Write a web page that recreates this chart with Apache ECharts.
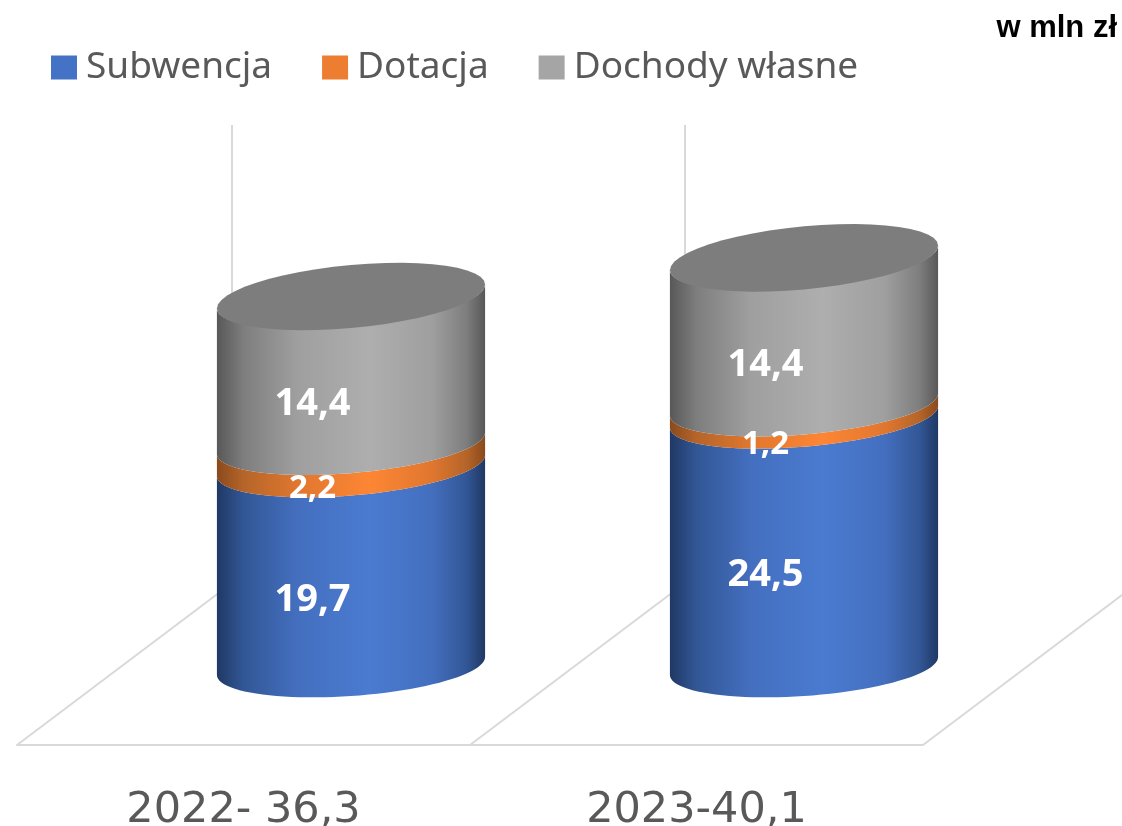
<!DOCTYPE html>
<html>
<head>
<meta charset="utf-8">
<title>Subwencja, dotacja, dochody własne</title>
<style>
  html, body { margin: 0; padding: 0; background: #fff; }
  #chart { width: 1122px; height: 826px; }
</style>
<script src="https://cdn.jsdelivr.net/npm/echarts@6/dist/echarts.min.js"></script>
</head>
<body>
<div id="chart"></div>
<script>
  // dane
  const categories = ['2022- 36,3', '2023-40,1'];
  const subwencja = [19.7, 24.5];
  const dotacja = [2.2, 1.2];
  const dochodyWlasne = [14.4, 14.4];

  // pseudo 3D: przesuniecie sciany tylnej i walca wzgledem przedniej krawedzi podlogi
  const WALL_DX = 215, WALL_DY = 162;
  const CYL_DX = 107.5, CYL_DY = 79;
  const AXIS_MAX = 45;

  function shade(c) {
    return {
      type: 'linear', x: 0, y: 0, x2: 1, y2: 0,
      colorStops: [
        { offset: 0, color: c[0] },
        { offset: 0.1, color: c[1] },
        { offset: 0.3, color: c[2] },
        { offset: 0.57, color: c[3] },
        { offset: 0.8, color: c[2] },
        { offset: 0.93, color: c[1] },
        { offset: 1, color: c[0] }
      ]
    };
  }

  // punkt przedniego luku elipsy (t: PI = lewo, 0 = prawo)
  function arc(cx, cy, a, b, k, from, to) {
    const pts = [];
    for (let i = 0; i <= 48; i++) {
      const t = from + (to - from) * i / 48;
      pts.push([cx + a * Math.cos(t), cy - k * Math.cos(t) + b * Math.sin(t)]);
    }
    return pts;
  }

  function cylinderPart(fill, hasCap) {
    return function (params, api) {
      const base = api.value(1), top = api.value(2);
      const p0 = api.coord([api.value(0), 0]);
      const pBase = api.coord([api.value(0), base]);
      const pTop = api.coord([api.value(0), top]);
      const a = api.size([1, 0])[0] * 0.296;
      const b = a * 0.224;
      const cx = p0[0] + CYL_DX;
      const y1 = pBase[1] - CYL_DY, y2 = pTop[1] - CYL_DY;
      const k1 = 9 + (p0[1] - pBase[1]) * 0.008;
      const k2 = 9 + (p0[1] - pTop[1]) * 0.008;

      const side = arc(cx, y1, a, b, k1, Math.PI, 0).concat(arc(cx, y2, a, b, k2, 0, Math.PI));
      const children = [{
        type: 'polygon',
        shape: { points: side },
        style: { fill: fill }
      }];
      if (hasCap) {
        children.push({
          type: 'polygon',
          shape: { points: arc(cx, y2, a, b + 1.5, k2, 0, Math.PI * 2) },
          style: { fill: '#7d7d7d' }
        });
      }
      const value = Math.round((top - base) * 10) / 10;
      const labelPos = api.coord([api.value(0), (base + top) / 2]);
      children.push({
        type: 'text',
        z2: 100,
        style: {
          x: labelPos[0] + 69,
          y: labelPos[1] - 45,
          text: String(value).replace('.', ','),
          fill: '#fff',
          font: 'bold ' + (value < 5 ? 33 : 38) + 'px "Noto Sans"',
          align: 'center',
          verticalAlign: 'middle'
        }
      });
      return { type: 'group', children: children };
    };
  }

  // linie podlogi i sciany dla kazdej granicy kategorii
  function renderFloor(params, api) {
    const edge = api.value(0);
    const band = api.size([1, 0])[0];
    const p = api.coord([0, 0]);
    const x = p[0] - band / 2 + band * edge;
    const yTop = api.coord([0, AXIS_MAX])[1];
    const lineStyle = { stroke: '#d9d9d9', lineWidth: 2, fill: null };
    return {
      type: 'group',
      children: [
        { type: 'line', shape: { x1: x, y1: p[1], x2: x + WALL_DX, y2: p[1] - WALL_DY }, style: lineStyle },
        { type: 'line', shape: { x1: x + WALL_DX, y1: p[1] - WALL_DY, x2: x + WALL_DX, y2: yTop - WALL_DY }, style: lineStyle }
      ]
    };
  }

  function stacked(values, below) {
    return values.map(function (v, i) {
      const start = below.reduce(function (sum, arr) { return sum + arr[i]; }, 0);
      return [i, start, start + v];
    });
  }

  const chart = echarts.init(document.getElementById('chart'));
  chart.setOption({
    animation: false,
    backgroundColor: '#fff',
    title: {
      text: 'w mln zł',
      right: 0,
      top: 8,
      textStyle: { color: '#000', fontFamily: 'Liberation Sans', fontWeight: 'bold', fontSize: 31 }
    },
    legend: {
      data: ['Subwencja', 'Dotacja', 'Dochody własne'],
      left: 46,
      top: 44,
      icon: 'rect',
      itemWidth: 26,
      itemHeight: 24,
      itemGap: 50,
      textStyle: { color: '#595959', fontFamily: 'Noto Sans', fontSize: 37, padding: [0, 0, 0, 4] }
    },
    grid: { left: 17, right: 199, top: 287, bottom: 81, outerBoundsMode: 'none' },
    xAxis: {
      type: 'category',
      data: categories,
      axisLine: { lineStyle: { color: '#d9d9d9', width: 2 } },
      axisTick: { show: false },
      axisLabel: { color: '#595959', fontFamily: 'DejaVu Sans', fontSize: 43, margin: 44, interval: 0 }
    },
    yAxis: {
      type: 'value',
      min: 0,
      max: AXIS_MAX,
      show: false,
      splitLine: { show: false }
    },
    series: [
      {
        name: 'floor',
        type: 'custom',
        silent: true,
        renderItem: renderFloor,
        data: [[0], [1], [2]],
        encode: { x: -1, y: -1 }
      },
      {
        name: 'Subwencja',
        type: 'custom',
        itemStyle: { color: '#4472c4' },
        renderItem: cylinderPart(shade(['#203864', '#325796', '#446fbf', '#4a7bd0']), false),
        data: stacked(subwencja, []),
        encode: { x: 0, y: 2 }
      },
      {
        name: 'Dotacja',
        type: 'custom',
        itemStyle: { color: '#ed7d31' },
        renderItem: cylinderPart(shade(['#8a4a1c', '#b5652a', '#e0772f', '#fd8634']), false),
        data: stacked(dotacja, [subwencja]),
        encode: { x: 0, y: 2 }
      },
      {
        name: 'Dochody własne',
        type: 'custom',
        itemStyle: { color: '#a5a5a5' },
        renderItem: cylinderPart(shade(['#585858', '#7e7e7e', '#9f9f9f', '#aeaeae']), true),
        data: stacked(dochodyWlasne, [subwencja, dotacja]),
        encode: { x: 0, y: 2 }
      }
    ]
  });
</script>
</body>
</html>
